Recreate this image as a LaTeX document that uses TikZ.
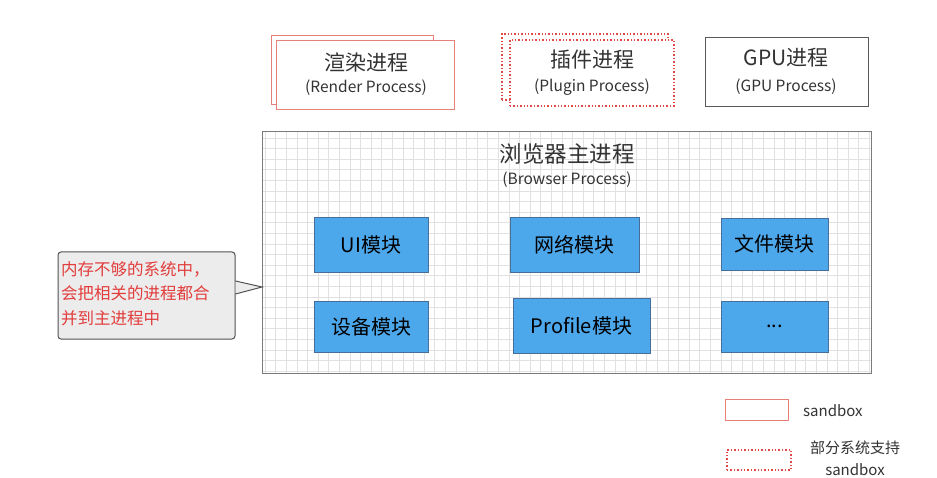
\documentclass[tikz,border=0pt]{standalone}
\usepackage{fontspec}
\setmainfont{Noto Sans CJK SC}
\begin{document}
\begin{tikzpicture}[x=1pt,y=-1pt,
  redsolid/.style={draw=sbred, line width=0.9pt, fill=white},
  reddot/.style={draw=dotred, line width=1.2pt, dash pattern=on 1.4pt off 2pt, fill=white},
  procbox/.style={draw=boxgray, line width=0.8pt, fill=white},
  modbox/.style={draw=modborder, line width=0.6pt, fill=modblue, inner sep=0pt, font=\fontsize{20}{22}\selectfont, text=black},
  cjktitle/.style={font=\fontsize{21}{23}\selectfont, text=txtgray, inner sep=0pt},
  subtitle/.style={font=\fontsize{15.5}{18}\selectfont, text=txtgray, inner sep=0pt},
  legtext/.style={font=\fontsize{15}{17}\selectfont, text=txtgray, inner sep=0pt},
]
\definecolor{sbred}{RGB}{232,128,122}
\definecolor{dotred}{RGB}{226,72,72}
\definecolor{boxgray}{RGB}{90,90,90}
\definecolor{modblue}{RGB}{76,167,235}
\definecolor{modborder}{RGB}{70,110,150}
\definecolor{txtgray}{RGB}{51,51,51}
\definecolor{gridgray}{RGB}{225,225,225}
\definecolor{calloutfill}{RGB}{236,236,236}
\definecolor{callred}{RGB}{226,60,60}

\useasboundingbox[fill=white] (0,0) rectangle (937,478);

% Render process (stacked)
\node[redsolid, minimum width=162pt, minimum height=69pt, inner sep=0pt] (renderback) at (352,69.5) {};
\node[redsolid, minimum width=178pt, minimum height=69pt, inner sep=0pt] (render) at (365,74.5) {};
\node[cjktitle] (rendertitle) at (366,62) {渲染进程};
\node[subtitle] (rendersub) at (366,88) {(Render Process)};

% Plugin process (stacked dotted)
\node[reddot, minimum width=166pt, minimum height=66pt, inner sep=0pt] (pluginback) at (585,67) {};
\node[reddot, minimum width=164pt, minimum height=66pt, inner sep=0pt] (plugin) at (592,73) {};
\node[cjktitle] (plugintitle) at (592,60) {插件进程};
\node[subtitle] (pluginsub) at (592,87) {(Plugin Process)};

% GPU process
\node[procbox, minimum width=163pt, minimum height=69pt, inner sep=0pt] (gpu) at (786.5,71.5) {};
\node[cjktitle] (gputitle) at (786,58) {GPU进程};
\node[subtitle] (gpusub) at (786,87) {(GPU Process)};

% Browser main process
\node[draw=none, fill=white, minimum width=608pt, minimum height=241pt, inner sep=0pt] (browser) at (567,252.5) {};
\begin{scope}
  \clip (browser.north west) rectangle (browser.south east);
  \draw[gridgray, line width=0.5pt, step=10.6pt] (browser.north west) grid (browser.south east);
\end{scope}
\draw[draw=boxgray!80, line width=1.3pt] (browser.north west) rectangle (browser.south east);
\node[font=\fontsize{22.5}{25}\selectfont, text=txtgray, inner sep=0pt] (browsertitle) at (567,154) {浏览器主进程};
\node[subtitle] (browsersub) at (567,180) {(Browser Process)};

% Modules
\node[modbox, minimum width=114pt, minimum height=55pt] (ui) at (371,244.5) {UI模块};
\node[modbox, minimum width=129pt, minimum height=55pt] (net) at (574.5,244.5) {网络模块};
\node[modbox, minimum width=107pt, minimum height=52pt] (file) at (774.5,244) {文件模块};
\node[modbox, minimum width=114pt, minimum height=51pt] (dev) at (371,326.5) {设备模块};
\node[modbox, minimum width=137pt, minimum height=55pt] (profile) at (581.5,325.5) {Profile模块};
\node[modbox, minimum width=107pt, minimum height=51pt] (more) at (774.5,326.5) {...};

% Callout
\node[draw=boxgray!90!black, line width=1pt, fill=calloutfill, rounded corners=3pt,
      minimum width=177pt, minimum height=87pt, inner sep=0pt] (callout) at (146.5,295.5) {};
\coordinate (tip) at (262,287);
\fill[calloutfill] ([yshift=-0.6pt]callout.east |- 0,281) -- (tip) -- ([yshift=0.6pt]callout.east |- 0,294) -- cycle;
\draw[draw=boxgray!90!black, line width=1pt, line join=miter] (callout.east |- 0,281) -- (tip) -- (callout.east |- 0,294);
\node[font=\fontsize{16.5}{24.5}\selectfont, text=callred, align=left, anchor=north west, inner sep=0pt] (callouttext) at (61,261) {内存不够的系统中，\\会把相关的进程都合\\并到主进程中};

% Legend
\node[redsolid, minimum width=63pt, minimum height=21pt, inner sep=0pt] (legsolid) at (756.5,409.5) {};
\node[legtext, anchor=west] (legsolidtext) at (803,411) {sandbox};
\node[reddot, minimum width=64pt, minimum height=20pt, inner sep=0pt] (legdot) at (759,460) {};
\node[legtext] (legdottext1) at (855,448) {部分系统支持};
\node[legtext] (legdottext2) at (855,470) {sandbox};
\end{tikzpicture}
\end{document}
